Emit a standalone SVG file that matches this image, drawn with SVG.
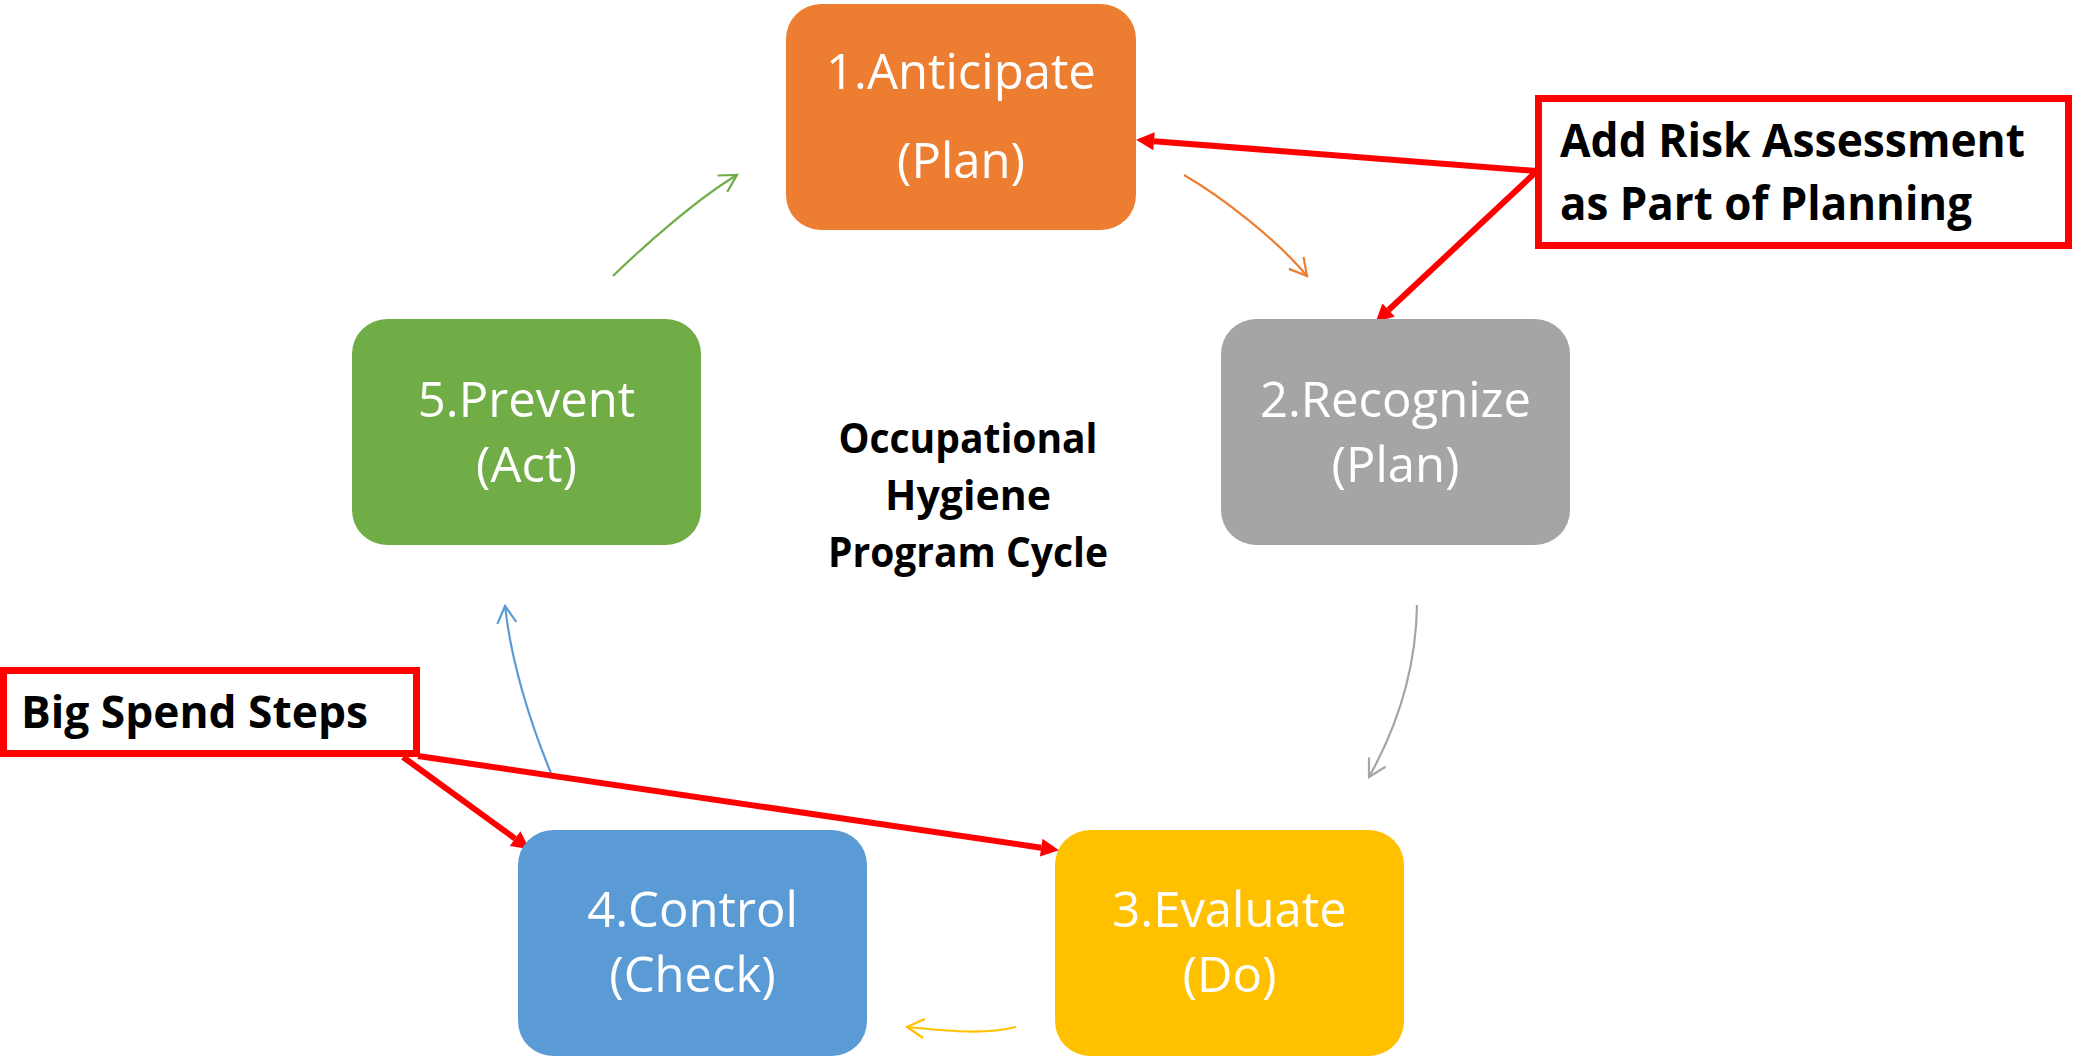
<svg xmlns="http://www.w3.org/2000/svg" width="2075" height="1059" viewBox="0 0 2075 1059">
<style>
.node text{font-family:"Open Sans","Noto Sans",sans-serif;font-size:49px;fill:#ffffff;text-anchor:middle}
.bold{font-family:"Open Sans","Noto Sans",sans-serif;font-weight:bold;fill:#000000}
.callout{fill:#ffffff;stroke:#ff0000;stroke-width:7}
.red{stroke:#ff0000;stroke-width:6;fill:none}
.thin{fill:none;stroke-width:2.2}
</style>
<defs>
<marker id="redhead" markerUnits="userSpaceOnUse" markerWidth="40" markerHeight="40" viewBox="-20 -20 40 40" refX="-2" refY="0" orient="auto" overflow="visible">
<path d="M-2,-9 L16,0 L-2,9 Z" fill="#ff0000"/>
</marker>
<marker id="hOrange" markerUnits="userSpaceOnUse" markerWidth="40" markerHeight="40" viewBox="-20 -20 40 40" refX="0" refY="0" orient="auto" overflow="visible">
<path d="M-17,-9.5 L0,0 L-17,9.5" fill="none" stroke="#ED7D31" stroke-width="2.2"/>
</marker>
<marker id="hGray" markerUnits="userSpaceOnUse" markerWidth="40" markerHeight="40" viewBox="-20 -20 40 40" refX="0" refY="0" orient="auto" overflow="visible">
<path d="M-17,-9.5 L0,0 L-17,9.5" fill="none" stroke="#A5A5A5" stroke-width="2.2"/>
</marker>
<marker id="hYellow" markerUnits="userSpaceOnUse" markerWidth="40" markerHeight="40" viewBox="-20 -20 40 40" refX="0" refY="0" orient="auto" overflow="visible">
<path d="M-17,-9.5 L0,0 L-17,9.5" fill="none" stroke="#FFC000" stroke-width="2.2"/>
</marker>
<marker id="hBlue" markerUnits="userSpaceOnUse" markerWidth="40" markerHeight="40" viewBox="-20 -20 40 40" refX="0" refY="0" orient="auto" overflow="visible">
<path d="M-17,-9.5 L0,0 L-17,9.5" fill="none" stroke="#5B9BD5" stroke-width="2.2"/>
</marker>
<marker id="hGreen" markerUnits="userSpaceOnUse" markerWidth="40" markerHeight="40" viewBox="-20 -20 40 40" refX="0" refY="0" orient="auto" overflow="visible">
<path d="M-17,-9.5 L0,0 L-17,9.5" fill="none" stroke="#70AD47" stroke-width="2.2"/>
</marker>
</defs>
<rect x="0" y="0" width="2075" height="1059" fill="#ffffff"/>

<g id="connectors">
<path class="thin" stroke="#ED7D31" d="M1184,175 C1223,197.5 1278.4,241.2 1307,276" marker-end="url(#hOrange)"/>
<path class="thin" stroke="#A5A5A5" d="M1417,605 C1416,670 1397,727 1369,777" marker-end="url(#hGray)"/>
<path class="thin" stroke="#FFC000" d="M1016,1027 C982,1035.4 941.8,1030.2 907,1027" marker-end="url(#hYellow)"/>
<path class="thin" stroke="#5B9BD5" d="M551,773 C529.8,722.3 511,660.7 505,606" marker-end="url(#hBlue)"/>
<path class="thin" stroke="#70AD47" d="M613,276 C645.2,244.6 698.3,198 737,175" marker-end="url(#hGreen)"/>
<line class="red" x1="1537" y1="171" x2="1154" y2="141.2" marker-end="url(#redhead)"/>
<line class="red" x1="1537" y1="171" x2="1388.6" y2="310" marker-end="url(#redhead)"/>
<line class="red" x1="403" y1="757" x2="515.1" y2="838.6" marker-end="url(#redhead)"/>
<line class="red" x1="418" y1="756" x2="1041.2" y2="847.7" marker-end="url(#redhead)"/>
</g>

<g id="node1" class="node">
<rect x="786" y="4" width="350" height="226" rx="35" fill="#ED7D31"/>
<text x="961" y="89">1.Anticipate</text>
<text x="961" y="178">(Plan)</text>
</g>
<g id="node2" class="node">
<rect x="1221" y="319" width="349" height="226" rx="35" fill="#A5A5A5"/>
<text x="1395.5" y="417">2.Recognize</text>
<text x="1395.5" y="482">(Plan)</text>
</g>
<g id="node3" class="node">
<rect x="1055" y="830" width="349" height="226" rx="35" fill="#FFC000"/>
<text x="1229.5" y="927">3.Evaluate</text>
<text x="1229.5" y="992">(Do)</text>
</g>
<g id="node4" class="node">
<rect x="518" y="830" width="349" height="226" rx="35" fill="#5B9BD5"/>
<text x="692.5" y="927">4.Control</text>
<text x="692.5" y="992">(Check)</text>
</g>
<g id="node5" class="node">
<rect x="352" y="319" width="349" height="226" rx="35" fill="#70AD47"/>
<text x="526.5" y="417">5.Prevent</text>
<text x="526.5" y="482">(Act)</text>
</g>

<g id="title">
<text class="bold" x="968" y="453" font-size="42" text-anchor="middle" textLength="259" lengthAdjust="spacingAndGlyphs">Occupational</text>
<text class="bold" x="968" y="510" font-size="42" text-anchor="middle" textLength="166" lengthAdjust="spacingAndGlyphs">Hygiene</text>
<text class="bold" x="968" y="567" font-size="42" text-anchor="middle" textLength="280" lengthAdjust="spacingAndGlyphs">Program Cycle</text>
</g>

<g id="callout-risk">
<rect class="callout" x="1538.5" y="98.5" width="530" height="147"/>
<text class="bold" x="1560" y="157" font-size="47" textLength="465" lengthAdjust="spacingAndGlyphs">Add Risk Assessment</text>
<text class="bold" x="1560" y="220" font-size="47" textLength="412" lengthAdjust="spacingAndGlyphs">as Part of Planning</text>
</g>

<g id="callout-spend">
<rect class="callout" x="3.5" y="670.5" width="413" height="83"/>
<text class="bold" x="21" y="728" font-size="44" textLength="347" lengthAdjust="spacingAndGlyphs">Big Spend Steps</text>
</g>
</svg>
